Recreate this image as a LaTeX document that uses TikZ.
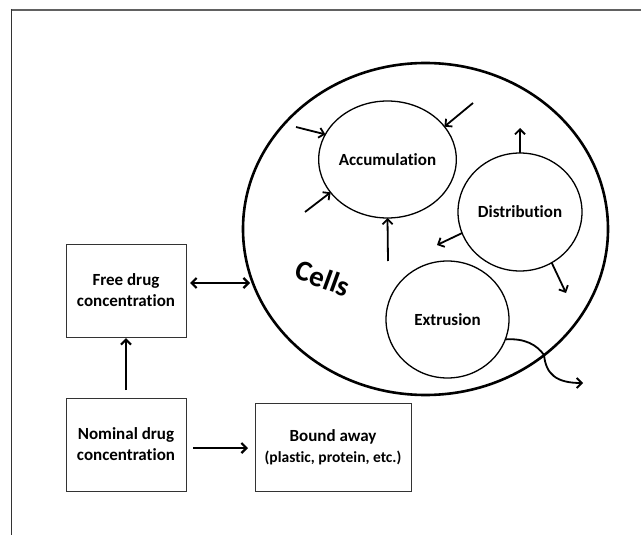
\documentclass[tikz,border=0pt]{standalone}
\usepackage{fontspec}
\setmainfont{Carlito}[Ligatures=NoCommon]
\usetikzlibrary{arrows.meta,shapes.geometric,calc}
\begin{document}
\begin{tikzpicture}[x=1pt,y=-1pt,
  lbl/.style={font=\bfseries\fontsize{17}{21}\selectfont, align=center},
  box/.style={draw=black!80, line width=1pt, rectangle, inner sep=0pt, outer sep=0pt, lbl},
  proc/.style={draw, ellipse, line width=1.3pt, inner sep=0pt, outer sep=0pt, minimum width=123pt, minimum height=117pt, lbl},
  tip/.tip={Straight Barb[length=5pt,width=10pt]},
  arr/.style={line width=2.2pt, -tip},
  tarr/.style={line width=1.8pt, -tip},
]
\useasboundingbox (0,0) rectangle (641,535);
% frame
\draw[black!62, line width=2pt] (10.5,10) -- (641,10);
\draw[black!80, line width=1.5pt] (11.3,9) -- (11.3,535);

% boxes
\node[box, minimum width=120pt, minimum height=93pt] (free) at (126,290.5) {Free drug\\concentration};
\node[box, minimum width=120pt, minimum height=93pt] (nom) at (126,444.5) {Nominal drug\\concentration};
\node[box, minimum width=156pt, minimum height=88pt] (bound) at (333,447) {Bound away\\{\fontsize{15.5}{19}\selectfont (plastic, protein, etc.)}};

% cell
\node[draw, ellipse, line width=2.6pt, minimum width=365pt, minimum height=332pt, inner sep=0pt, outer sep=0pt] (cell) at (425.5,229) {};
\node[font=\bfseries\fontsize{29}{34}\selectfont, rotate=-20] (cl) at (323,278) {Cells};

\node[proc] (acc) at (387.5,159.5) {Accumulation};
\node[proc, minimum width=124pt, minimum height=118pt] (dist) at (520,212) {Distribution};
\node[proc] (ext) at (447.5,319.5) {Extrusion};

% arrows into accumulation
\coordinate (a1) at (296,127);
\coordinate (a2) at (473,103);
\coordinate (a3) at (305,212);
\coordinate (a4) at (388,261);
\draw[tarr] (a1) -- (acc.158);
\draw[tarr] (a2) -- (acc.30);
\draw[tarr] (a3) -- (acc.210);
\draw[tarr] (a4) -- (acc.south);

% arrows out of distribution
\coordinate (d5) at (520,128);
\coordinate (d6) at (437,245);
\coordinate (d7) at (566,293);
\draw[tarr] (dist.north) -- (d5);
\draw[tarr] (dist.200) -- (d6);
\draw[tarr] (dist.302) -- (d7);

% extrusion
\coordinate (e1) at (583,383);
\draw[tarr] (ext.341) .. controls (525,338) and (537,345) .. (544,355)
  .. controls (546,374) and (556,383) .. (e1);

% main arrows
\coordinate (dbl) at (250,283);
\draw[line width=2.2pt, tip-tip] ([xshift=4pt]free.east |- dbl) -- (dbl);
\draw[arr, shorten <=8pt, shorten >=1pt] (nom.north) -- (free.south);
\coordinate (nb) at (0,448);
\draw[arr, shorten <=7pt, shorten >=7pt] (nom.east |- nb) -- (bound.west |- nb);
\end{tikzpicture}
\end{document}
